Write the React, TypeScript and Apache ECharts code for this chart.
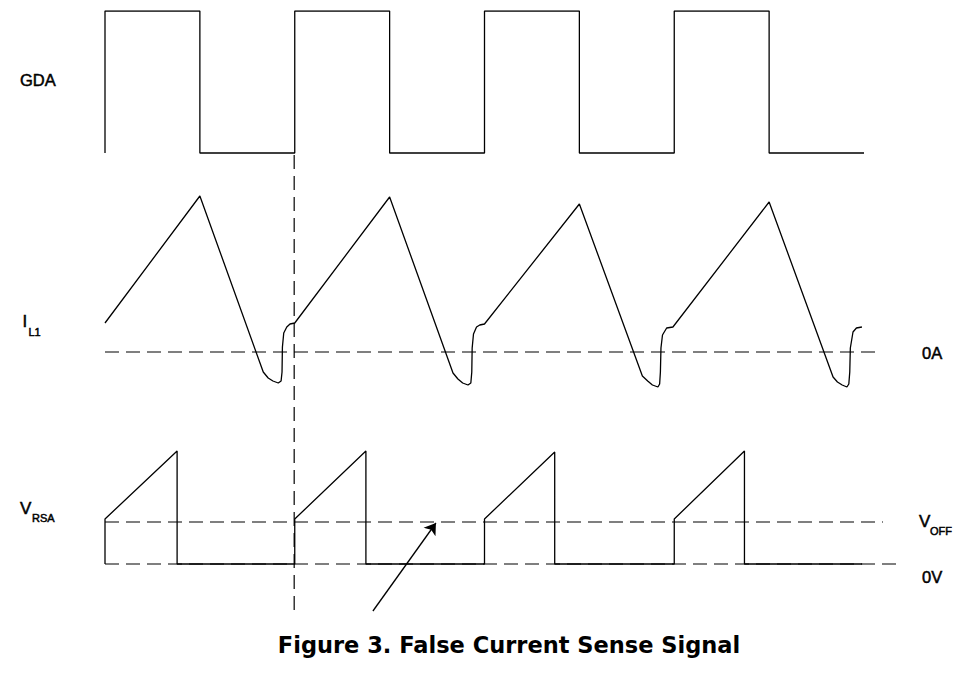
import React, { useEffect, useRef } from 'react';
import * as echarts from 'echarts';

// Time axis: one switching period = 10 units. Vertical axis: drawing level units.
const TITLE = 'Figure 3. False Current Sense Signal';

const gdaWave: number[][] = [
  [0, 459], [0, 601], [5, 601], [5, 459], [10, 459], [10, 601], [15, 601], [15, 459],
  [20, 459], [20, 601], [25, 601], [25, 459], [30, 459], [30, 601], [35, 601], [35, 459], [40, 459],
];

const il1Wave: number[][] = [
  [0, 289], [5, 416], [8.34, 240], [8.6, 234], [8.85, 231], [9.13, 229], [9.28, 231], [9.33, 240], [9.35, 265],
  [9.42, 279], [9.58, 285], [9.75, 288], [10, 289],
  [15, 415], [18.34, 239], [18.6, 233], [18.85, 229], [19.13, 227], [19.28, 229], [19.33, 240], [19.35, 264],
  [19.42, 278], [19.58, 285], [19.75, 287], [20, 288],
  [25, 408], [28.32, 236], [28.6, 231], [28.85, 227], [29.14, 225], [29.23, 228], [29.27, 240], [29.3, 264],
  [29.38, 277], [29.6, 284], [29.93, 285],
  [35, 410], [38.37, 235], [38.6, 230], [38.85, 227], [39.1, 225], [39.2, 228], [39.25, 240], [39.28, 264],
  [39.42, 280], [39.6, 284], [39.89, 285],
];

const vrsaWave: number[][] = [
  [0, 48], [0, 93], [3.8, 161], [3.8, 48], [10, 48], [10, 93], [13.75, 161], [13.75, 48],
  [20, 48], [20, 93], [23.7, 160], [23.7, 48], [30, 48], [30, 93], [33.7, 161], [33.7, 48], [39.9, 48],
];

const zeroAmpLine: number[][] = [[0, 260], [40.85, 260]];
const vOffLine: number[][] = [[0, 90], [41.0, 90]];
const zeroVoltLine: number[][] = [[0, 48], [41.8, 48]];
const markerLine: number[][] = [[9.97, 457], [9.97, 0]];
const arrowLine: number[][] = [[14.12, 1], [17.44, 89]];

const LABEL_FONT = '"Liberation Sans", Arial, sans-serif';

export default function App() {
  const ref = useRef<HTMLDivElement>(null);

  useEffect(() => {
    if (!ref.current) return;
    const chart = echarts.init(ref.current, undefined, { renderer: 'svg' });

    const solid = (name: string, data: number[][]) => ({
      name,
      type: 'line',
      data,
      showSymbol: false,
      symbol: 'none',
      z: 3,
      lineStyle: { color: '#000', width: 1.3 },
      silent: true,
    });
    const dashed = (name: string, data: number[][]) => ({
      name,
      type: 'line',
      data,
      symbol: 'none',
      z: 2,
      lineStyle: { color: '#000', width: 1.2, type: [14, 7] },
      silent: true,
    });

    const txt = (text: string, x: number, y: number, size: number) => ({
      type: 'text',
      x,
      y,
      style: {
        text,
        fill: '#000',
        stroke: '#000',
        lineWidth: 0.5,
        font: `${size}px ${LABEL_FONT}`,
        textAlign: 'left',
        textVerticalAlign: 'middle',
      },
    });

    chart.setOption({
      animation: false,
      backgroundColor: '#fff',
      title: {
        text: TITLE,
        left: 509,
        top: 633,
        padding: 0,
        textAlign: 'center',
        textStyle: {
          fontFamily: '"DejaVu Sans", sans-serif',
          fontWeight: 'bold',
          fontSize: 22.5,
          color: '#000',
        },
      },
      grid: { left: 105, top: 11, width: 796.95, height: 601 },
      xAxis: { type: 'value', min: 0, max: 42, show: false },
      yAxis: { type: 'value', min: 0, max: 601, show: false },
      series: [
        dashed('0A', zeroAmpLine),
        dashed('VOFF', vOffLine),
        dashed('0V', zeroVoltLine),
        dashed('marker', markerLine),
        solid('GDA', gdaWave),
        solid('IL1', il1Wave),
        solid('VRSA', vrsaWave),
        {
          name: 'arrow',
          type: 'lines',
          coordinateSystem: 'cartesian2d',
          symbol: ['none', 'arrow'],
          symbolSize: 11,
          z: 4,
          lineStyle: { color: '#000', width: 1.3, opacity: 1 },
          data: [{ coords: arrowLine }],
          silent: true,
        },
      ],
      graphic: [
        txt('GDA', 20, 80, 16.5),
        txt('I', 22.5, 321, 17),
        txt('L1', 28.5, 332, 11),
        txt('V', 20, 508, 17),
        txt('RSA', 32, 518, 11),
        txt('0A', 922, 353, 16.5),
        txt('V', 919, 521, 17),
        txt('OFF', 930, 531, 11),
        txt('0V', 922, 577, 16.5),
      ],
    });

    return () => chart.dispose();
  }, []);

  return (
    <div
      ref={ref}
      style={{ position: 'fixed', left: 0, top: 0, width: 965, height: 673, background: '#fff' }}
    />
  );
}
